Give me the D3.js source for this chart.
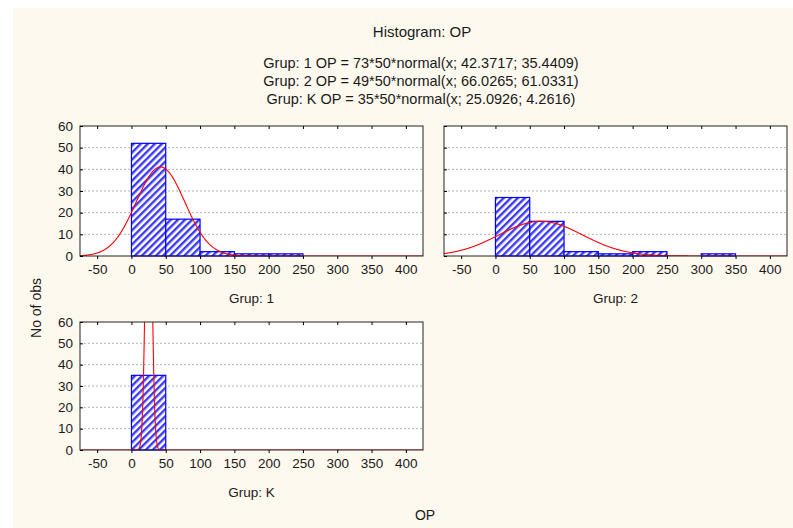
<!DOCTYPE html>
<html>
<head>
<meta charset="utf-8">
<script src="https://cdn.jsdelivr.net/npm/d3@7"></script>
<style>
  body { margin: 0; background: #fff; }
  text { font-family: "Liberation Sans", Arial, sans-serif; fill: #1a1a1a; }
</style>
</head>
<body>
<div id="chart"></div>
<script>
// bins of width 50, starting at 0
var binStarts = [0, 50, 100, 150, 200, 250, 300, 350];
var grup1Counts = [52, 17, 2, 1, 1, 0, 0, 0];
var grup2Counts = [27, 16, 2, 1, 2, 0, 1, 0];
var grupKCounts = [35, 0, 0, 0, 0, 0, 0, 0];

// fitted normals: n, mean, sd
var groupNames = ["Grup: 1", "Grup: 2", "Grup: K"];
var groupN = [73, 49, 35];
var groupMean = [42.3717, 66.0265, 25.0926];
var groupSd = [35.4409, 61.0331, 4.2616];

var xTicks = [-50, 0, 50, 100, 150, 200, 250, 300, 350, 400];
var yTicks = [0, 10, 20, 30, 40, 50, 60];
var binWidth = 50;

var width = 793, height = 528;

var svg = d3.select("#chart").append("svg")
    .attr("width", width)
    .attr("height", height);

// cream page
svg.append("rect")
    .attr("x", 13).attr("y", 8)
    .attr("width", width - 13).attr("height", height - 8)
    .attr("fill", "#fef9ee");

// hatch pattern
var defs = svg.append("defs");
var pat = defs.append("pattern")
    .attr("id", "hatch")
    .attr("patternUnits", "userSpaceOnUse")
    .attr("width", 5).attr("height", 5)
    .attr("patternTransform", "rotate(45)");
pat.append("rect").attr("width", 5).attr("height", 5).attr("fill", "#fff");
pat.append("rect").attr("x", 0).attr("width", 2.4).attr("height", 5).attr("fill", "#3b3bf2");

// titles
svg.append("text")
    .attr("x", 422).attr("y", 37)
    .attr("text-anchor", "middle")
    .style("font-size", "15px")
    .text("Histogram: OP");

var subLines = groupNames.map(function (g, i) {
    return g + " OP = " + groupN[i] + "*50*normal(x; " + groupMean[i] + "; " + groupSd[i] + ")";
});
svg.selectAll(".sub").data(subLines).enter().append("text")
    .attr("x", 421)
    .attr("y", function (d, i) { return 68 + i * 18; })
    .attr("text-anchor", "middle")
    .style("font-size", "14.5px")
    .text(function (d) { return d; });

// axis titles
svg.append("text")
    .attr("transform", "translate(41,308) rotate(-90)")
    .attr("text-anchor", "middle")
    .style("font-size", "14px")
    .text("No of obs");

svg.append("text")
    .attr("x", 425).attr("y", 520)
    .attr("text-anchor", "middle")
    .style("font-size", "14px")
    .text("OP");

var panels = [
    { x0: 80, x1: 423, y0: 126, y1: 256, counts: grup1Counts, yLabels: true },
    { x0: 444, x1: 787, y0: 126, y1: 256, counts: grup2Counts, yLabels: false },
    { x0: 80, x1: 423, y0: 322, y1: 450, counts: grupKCounts, yLabels: true }
];

function normalPdf(x, m, s) {
    return Math.exp(-0.5 * Math.pow((x - m) / s, 2)) / (s * Math.sqrt(2 * Math.PI));
}

panels.forEach(function (p, i) {
    var xScale = d3.scaleLinear().domain([-75, 425]).range([p.x0, p.x1]);
    var yScale = d3.scaleLinear().domain([0, 60]).range([p.y1, p.y0]);
    var g = svg.append("g");

    g.append("rect")
        .attr("x", p.x0).attr("y", p.y0)
        .attr("width", p.x1 - p.x0).attr("height", p.y1 - p.y0)
        .attr("fill", "#fff");

    defs.append("clipPath").attr("id", "clip" + i)
        .append("rect")
        .attr("x", p.x0).attr("y", p.y0)
        .attr("width", p.x1 - p.x0).attr("height", p.y1 - p.y0);

    // grid
    g.selectAll(".grid").data(yTicks.slice(1, -1)).enter().append("line")
        .attr("x1", p.x0).attr("x2", p.x1)
        .attr("y1", function (d) { return yScale(d); })
        .attr("y2", function (d) { return yScale(d); })
        .attr("stroke", "#b4b4b4")
        .attr("stroke-dasharray", "2,2");

    // bars
    g.selectAll(".bar").data(binStarts).enter().append("rect")
        .attr("x", function (d) { return xScale(d); })
        .attr("y", function (d, j) { return yScale(p.counts[j]); })
        .attr("width", function (d) { return xScale(d + binWidth) - xScale(d); })
        .attr("height", function (d, j) { return yScale(0) - yScale(p.counts[j]); })
        .attr("fill", "url(#hatch)")
        .attr("stroke", "#0000ff")
        .attr("stroke-width", 1.2);

    // fitted normal
    var xs = d3.range(-75, 425.5, 0.5);
    var line = d3.line()
        .x(function (d) { return xScale(d); })
        .y(function (d) { return yScale(groupN[i] * binWidth * normalPdf(d, groupMean[i], groupSd[i])); });
    g.append("path")
        .attr("clip-path", "url(#clip" + i + ")")
        .attr("d", line(xs))
        .attr("fill", "none")
        .attr("stroke", "#ff0000")
        .attr("stroke-width", 1.1);

    // frame
    g.append("rect")
        .attr("x", p.x0).attr("y", p.y0)
        .attr("width", p.x1 - p.x0).attr("height", p.y1 - p.y0)
        .attr("fill", "none")
        .attr("stroke", "#222")
        .attr("stroke-width", 1);

    // axes
    var xAxis = g.append("g")
        .attr("transform", "translate(0," + p.y1 + ")")
        .call(d3.axisBottom(xScale).tickValues(xTicks).tickSize(3).tickSizeOuter(0)
            .tickFormat(function (d) { return String(d); }));
    xAxis.select(".domain").remove();
    xAxis.selectAll("text").style("font-size", "13.5px").attr("dy", "0.9em");

    var topTicks = g.append("g")
        .attr("transform", "translate(0," + p.y0 + ")")
        .call(d3.axisBottom(xScale).tickValues(xTicks).tickSize(3).tickFormat(""));
    topTicks.select(".domain").remove();

    var yAxis = g.append("g")
        .attr("transform", "translate(" + p.x0 + ",0)")
        .call(d3.axisRight(yScale).tickValues(yTicks).tickSize(3)
            .tickFormat(p.yLabels ? function (d) { return String(d); } : ""));
    yAxis.select(".domain").remove();
    yAxis.selectAll("text")
        .attr("x", -7)
        .attr("text-anchor", "end")
        .style("font-size", "13.5px");

    svg.append("text")
        .attr("x", (p.x0 + p.x1) / 2)
        .attr("y", p.y1 + 47)
        .attr("text-anchor", "middle")
        .style("font-size", "13.5px")
        .text(groupNames[i]);
});
</script>
</body>
</html>
